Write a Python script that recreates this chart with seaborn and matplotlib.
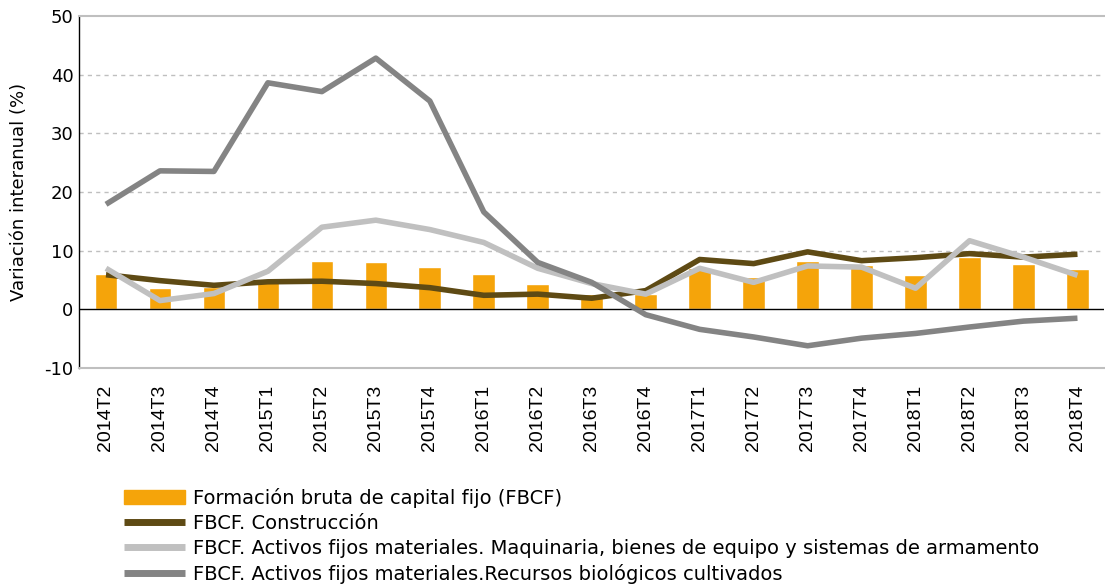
import pandas as pd
import matplotlib.pyplot as plt
import seaborn as sns
from matplotlib.patches import Patch
from matplotlib.lines import Line2D

# Datos (variacion interanual, %)
periodos = ['2014T2', '2014T3', '2014T4', '2015T1', '2015T2', '2015T3', '2015T4',
            '2016T1', '2016T2', '2016T3', '2016T4', '2017T1', '2017T2', '2017T3',
            '2017T4', '2018T1', '2018T2', '2018T3', '2018T4']
fbcf = [6.0, 3.6, 3.8, 5.2, 8.2, 8.0, 7.3, 6.1, 4.4, 2.6, 2.6, 7.1, 5.6, 8.2,
        7.5, 5.8, 8.9, 7.7, 6.8]
construccion = [5.9, 4.9, 4.1, 4.7, 4.8, 4.4, 3.7, 2.4, 2.6, 1.9, 3.2, 8.5, 7.8, 9.8,
                8.3, 8.8, 9.5, 8.9, 9.4]
maquinaria = [7.0, 1.5, 2.7, 6.5, 14.0, 15.2, 13.6, 11.4, 7.0, 4.4, 2.6, 7.0, 4.6, 7.4,
              7.2, 3.6, 11.7, 8.9, 5.8]
biologicos = [17.9, 23.6, 23.5, 38.6, 37.1, 42.8, 35.5, 16.6, 8.0, 4.6, -0.9, -3.4, -4.7,
              -6.2, -4.9, -4.1, -3.0, -2.0, -1.5]

labels = ['Formación bruta de capital fijo (FBCF)',
          'FBCF. Construcción',
          'FBCF. Activos fijos materiales. Maquinaria, bienes de equipo y sistemas de armamento',
          'FBCF. Activos fijos materiales.Recursos biológicos cultivados']

c_bar = '#F5A40A'
c_cons = '#5E4A14'
c_maq = '#C0C0C0'
c_bio = '#848484'

sns.set_style('white')
plt.rcParams['font.family'] = ['DejaVu Sans']
plt.rcParams['text.color'] = 'black'
plt.rcParams['axes.labelcolor'] = 'black'
plt.rcParams['xtick.color'] = 'black'
plt.rcParams['ytick.color'] = 'black'
plt.rcParams['axes.unicode_minus'] = False

fig = plt.figure(figsize=(11.05, 5.88), dpi=100)
ax = fig.add_axes([0.0715, 0.374, 0.928, 0.599])

df = pd.DataFrame({'periodo': periodos, 'fbcf': fbcf, 'construccion': construccion,
                   'maquinaria': maquinaria, 'biologicos': biologicos})

sns.barplot(data=df, x='periodo', y='fbcf', color=c_bar, width=0.42,
            saturation=1, ax=ax, zorder=2)
for col, c in [('construccion', c_cons), ('maquinaria', c_maq), ('biologicos', c_bio)]:
    sns.pointplot(data=df, x='periodo', y=col, color=c, markers='', errorbar=None,
                  linewidth=4, solid_capstyle='butt', ax=ax, zorder=3)

ax.set_ylim(-10, 50)
ax.set_xlim(-0.5, len(periodos) - 0.5)
ax.set_yticks([-10, 0, 10, 20, 30, 40, 50])
for y in [10, 20, 30, 40]:
    ax.axhline(y, color='#BFBFBF', linestyle=(0, (3, 3)), linewidth=1, zorder=1)
ax.axhline(0, color='black', linewidth=1, zorder=2.5)

for s in ['top', 'bottom']:
    ax.spines[s].set_color('#BFBFBF')
    ax.spines[s].set_linewidth(1.5)
ax.spines['right'].set_visible(False)
ax.spines['left'].set_color('black')
ax.spines['left'].set_linewidth(1)

ax.set_xlabel('')
ax.set_ylabel('Variación interanual (%)', fontsize=13, labelpad=12)
ax.tick_params(axis='y', labelsize=13, length=0, pad=4)
ax.tick_params(axis='x', length=0, pad=12)
for t in ax.get_xticklabels():
    t.set_rotation(90)
    t.set_fontfamily('Liberation Sans')
    t.set_fontsize(14)

handles = [Patch(color=c_bar),
           Line2D([], [], color=c_cons, linewidth=5, solid_capstyle='butt'),
           Line2D([], [], color=c_maq, linewidth=5, solid_capstyle='butt'),
           Line2D([], [], color=c_bio, linewidth=5, solid_capstyle='butt')]
fig.legend(handles, labels, loc='upper left', bbox_to_anchor=(0.112, 0.17),
           frameon=False, fontsize=14, handlelength=3.15, handletextpad=0.4,
           labelspacing=0.3, borderaxespad=0, borderpad=0)

fig.savefig('out.png', dpi=100)
